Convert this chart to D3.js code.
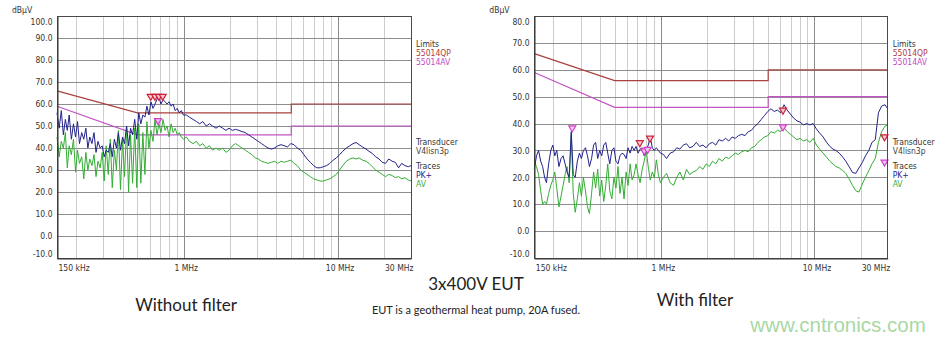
<!DOCTYPE html>
<html>
<head>
<meta charset="utf-8">
<script src="https://cdn.jsdelivr.net/npm/d3@7"></script>
<style>
  html, body { margin: 0; padding: 0; background: #fff; }
  svg { display: block; }
  .sm { font-family: "Liberation Sans Narrow", "Arial Narrow", "DejaVu Sans Condensed", "Liberation Sans", Arial, sans-serif; font-size: 8.5px; fill: #333; }
  .cap { font-family: Lato, "Open Sans", "Noto Sans", sans-serif; fill: #222; }
</style>
</head>
<body>
<svg id="chart" width="951" height="339"></svg>
<script>
// Frequency grid of the sweep (MHz), shared by both measurements
const freqMHz = [
  0.150,0.155,0.160,0.165,0.170,0.175,0.180,0.186,0.192,0.198,
  0.204,0.210,0.217,0.224,0.231,0.238,0.245,0.253,0.261,0.269,
  0.277,0.286,0.295,0.304,0.313,0.323,0.333,0.343,0.354,0.365,
  0.376,0.388,0.400,0.412,0.425,0.438,0.451,0.465,0.480,0.495,
  0.510,0.526,0.542,0.559,0.576,0.594,0.612,0.631,0.650,0.670,
  0.690,0.711,0.733,0.756,0.779,0.803,0.828,0.853,0.880,0.907,
  0.935,0.964,0.994,
  1.04,1.09,1.15,1.21,1.27,1.33,1.40,1.47,1.54,1.62,
  1.70,1.79,1.88,1.97,2.07,2.17,2.28,2.39,2.51,2.64,
  2.77,2.91,3.05,3.20,3.36,3.53,3.71,3.89,4.09,4.29,
  4.50,4.73,4.97,5.21,5.47,5.75,6.03,6.34,6.65,6.98,
  7.33,7.70,8.08,8.49,8.91,9.36,9.82,10.3,10.8,11.4,
  12.0,12.6,13.2,13.8,14.5,15.3,16.0,16.8,17.7,18.6,
  19.5,20.5,21.5,22.6,23.7,24.9,26.1,27.4,28.8,30.0
];

// Without filter: peak (PK+) and average (AV) traces, dBµV
const pkWithout = [
  56,49,57,46,53,48,55,44,51,45,
  52,42,47,44,49,40,45,42,47,38,
  43,40,41,36,39,38,42,36,44,40,
  47,39,45,42,50,41,49,46,53,44,
  56,51,55,54,59,55,61,58,60,62,
  63,60,62,61,60,61,59,60,57,58,
  56,57,55,
  55,54,53,52,51,52,50,51,50,49,
  50,49,48,49,48,48.5,48,47.5,47,46,
  45,44,43,42,41,40,39.5,40,41,41.5,
  41,40.5,42,41.5,40,39,37,35,33.5,32,
  31,31,31.5,32,33,34.5,35.5,37,38.5,40,
  41,42,42.5,41.5,40.5,39.5,38.5,37.5,36,35,
  33.5,33,35,34,33.5,31,33,32,31.5,32
];
const avWithout = [
  45,36,43,40,47,31,41,37,44,29,
  39,33,36,26,38,30,35,32,37,27,
  34,31,38,25,41,28,44,22,39,30,
  48,21,44,27,50,20,46,24,49,22,
  51,24,47,28,52,40,48,43,53,46,
  51,47,53,48,50,45,51,47,49,46,
  47,45,44,
  45,43,42,43,41,42,40,41,39,40,
  39,40,38,39,41,42,41,40,39,38,
  37,35.5,35,34,33.5,33,33.5,34,33,34,
  33.5,34,34.5,33,32,30,29,28,27,26,
  25.5,25,25,25.5,26,27,28,30,32,34,
  35,35.5,35,35.5,34.5,34,33,31.5,30,29,
  28,27,28,27.5,26.5,27,26,26.5,25.5,25
];

// With filter: peak (PK+) and average (AV) traces, dBµV
const pkWith = [
  23,28,30,26,24,20,18,25,30,32,
  28,30,24,27,28,25,22,20,37,21,
  20,26,29,27,30,31,28,24,27,32,
  33,27,30,28,32,33,29,25,30,31,
  26,25,28,29,28.5,27,31,29,31.5,30,
  31.5,29,30.5,31,28,30,32,35,31,30,
  31,30,29,
  28.5,27,29,29.5,31,30.5,32,32.5,31,31.5,
  33,31.5,32,31,32.5,33,32,34,33.5,34.5,
  33.5,35,34.5,35.5,36,35.5,37,37.5,39,40,
  41.5,43,44.5,45.5,44.5,45,44,47,45,43.5,
  42,41,40.5,39.5,40,39.5,40,38,36.5,35,
  33,31.5,30.5,30,29,27.5,26,24,21.8,21.5,
  23.5,25.5,28,30,33,34,44,46.5,47,45.5
];
const avWith = [
  26,24,21,15,10,11,10,14,17,19,
  22,16,9,13,17,21,24,18,36,14,
  7,12,18,13,20,15,9,6.5,14,22,
  16,23,13,19,11,17,25,15,12,20,
  16,24,14,20,12,22,17,25,19,21,
  25,21,18,23,26,30,24,19,22,20,
  26.5,21,18,
  20,21.5,18,17,20,22,19,23,21,22,
  22.5,24,23,25,24,26,25,27,26,27.5,
  27,28,29,28.5,29.5,30,29.5,31,31.5,33,
  34,35,35.5,37,36.5,37.5,37,38.5,37,36,
  35,34,34.5,33.5,34,33,34.5,32,30.5,29,
  27.5,26,25,24,23.5,22.5,21.5,19.5,17,15,
  14.5,17.5,20,22.5,25,27,33,37,39,39.5
];

// EN 55014 limit lines (breakpoints in MHz / dBµV)
const limitFreq = [0.15, 0.5, 5, 5, 30];
const limitQP = [66, 56, 56, 60, 60];
const limitAV = [59, 46, 46, 50, 50];

// Final measurement markers
const markWithoutQPf = [0.61, 0.65, 0.69, 0.73];
const markWithoutQPv = [63, 63, 63, 63];
const markWithoutAVf = [0.68];
const markWithoutAVv = [52];
const markWithQPf = [0.73, 0.85, 6.24, 28.6];
const markWithQPv = [32.5, 34.2, 44.6, 34.7];
const markWithAVf = [0.265, 0.78, 0.82, 6.24, 28.6];
const markWithAVv = [38, 29.5, 30, 38.4, 25.3];

// Axis ticks and labels
const gridMHz = [0.2,0.3,0.4,0.5,0.6,0.7,0.8,0.9,1,2,3,4,5,6,7,8,9,10,20];
const xTickMHz = [0.15, 1, 10, 30];
const xTickLabels = ["150 kHz", "1 MHz", "10 MHz", "30 MHz"];
const yTicksWithout = [-10,0,10,20,30,40,50,60,70,80,90,100];
const yTicksWith = [-10,0,10,20,30,40,50,60,70,80];

const legendLines = [
  {t: "Limits", c: "#333", dy: 44.3},
  {t: "55014QP", c: "#b0403c", dy: 53.5},
  {t: "55014AV", c: "#c04cc0", dy: 62.5},
  {t: "Transducer", c: "#333", dy: 142.7},
  {t: "V4lisn3p", c: "#444", dy: 151.7},
  {t: "Traces", c: "#333", dy: 166.7},
  {t: "PK+", c: "#24248a", dy: 175.7},
  {t: "AV", c: "#3aae3a", dy: 184.3}
];

const COLORS = { pk: "#22228a", av: "#33ad33", qp: "#a8413d", avl: "#c354c3",
                 mQP: "#d0203a", mAV: "#d040c8" };

const svg = d3.select("#chart");
const plotTop = 16, plotBottom = 258;

const panels = [
  { x0: 57, x1: 411, yMax: 100, yTicks: yTicksWithout, pk: pkWithout, av: avWithout,
    qf: markWithoutQPf, qv: markWithoutQPv, af: markWithoutAVf, av2: markWithoutAVv },
  { x0: 534.3, x1: 887.7, yMax: 80, yTicks: yTicksWith, pk: pkWith, av: avWith,
    qf: markWithQPf, qv: markWithQPv, af: markWithAVf, av2: markWithAVv }
];

const crisp = v => Math.round(v) + 0.5;

panels.forEach(p => {
  const x = d3.scaleLog().domain([0.15, 30]).range([p.x0, p.x1]);
  const y = d3.scaleLinear().domain([-10, p.yMax]).range([plotBottom, plotTop]);
  const g = svg.append("g");

  // vertical grid
  g.append("g").selectAll("line").data(gridMHz).join("line")
    .attr("x1", d => crisp(x(d))).attr("x2", d => crisp(x(d)))
    .attr("y1", plotTop).attr("y2", plotBottom)
    .attr("stroke", d => (d === 1 || d === 10) ? "#8c8c8c" : "#cdcdcd")
    .attr("stroke-width", 1);

  // horizontal grid
  g.append("g").selectAll("line").data(p.yTicks).join("line")
    .attr("x1", p.x0).attr("x2", p.x1)
    .attr("y1", d => crisp(y(d))).attr("y2", d => crisp(y(d)))
    .attr("stroke", "#8e8e8e").attr("stroke-width", 1);

  // limit lines
  const lim = d3.line().x(d => x(d[0])).y(d => y(d[1]));
  g.append("path").datum(limitFreq.map((f, i) => [f, limitQP[i]]))
    .attr("d", lim).attr("fill", "none").attr("stroke", COLORS.qp).attr("stroke-width", 1.2);
  g.append("path").datum(limitFreq.map((f, i) => [f, limitAV[i]]))
    .attr("d", lim).attr("fill", "none").attr("stroke", COLORS.avl).attr("stroke-width", 1.2);

  // traces
  const tr = d3.line().x(d => x(d[0])).y(d => y(d[1]));
  g.append("path").datum(freqMHz.map((f, i) => [f, p.av[i]]))
    .attr("d", tr).attr("fill", "none").attr("stroke", COLORS.av).attr("stroke-width", 1);
  g.append("path").datum(freqMHz.map((f, i) => [f, p.pk[i]]))
    .attr("d", tr).attr("fill", "none").attr("stroke", COLORS.pk).attr("stroke-width", 1);

  // markers (downward triangles)
  const tri = (cx, cy) => `M${cx - 3.5},${cy - 3}L${cx + 3.5},${cy - 3}L${cx},${cy + 3}Z`;
  g.append("g").selectAll("path").data(p.af.map((f, i) => [f, p.av2[i]])).join("path")
    .attr("d", d => tri(x(d[0]), y(d[1])))
    .attr("fill", "#f3c4ee").attr("stroke", COLORS.mAV).attr("stroke-width", 1.2);
  g.append("g").selectAll("path").data(p.qf.map((f, i) => [f, p.qv[i]])).join("path")
    .attr("d", d => tri(x(d[0]), y(d[1])))
    .attr("fill", "#f6c9cf").attr("stroke", COLORS.mQP).attr("stroke-width", 1.2);

  // frame
  g.append("rect").attr("x", crisp(p.x0)).attr("y", crisp(plotTop))
    .attr("width", Math.round(p.x1 - p.x0)).attr("height", plotBottom - plotTop)
    .attr("fill", "none").attr("stroke", "#4a4a4a").attr("stroke-width", 1);

  // y axis
  const ya = g.append("g").attr("transform", `translate(${crisp(p.x0)},0)`)
    .call(d3.axisLeft(y).tickValues(p.yTicks).tickFormat(d => d.toFixed(1)).tickSize(0).tickPadding(5));
  ya.select(".domain").attr("stroke", "#333");
  ya.selectAll("text").attr("class", "sm").attr("font-family", null).attr("font-size", null)
    .attr("dy", d => d === p.yMax ? "1.05em" : (d === -10 ? "-0.15em" : "0.32em"));

  // x axis
  const xa = g.append("g").attr("transform", `translate(0,${crisp(plotBottom)})`)
    .call(d3.axisBottom(x).tickValues(xTickMHz).tickFormat((d, i) => xTickLabels[i]).tickSize(0).tickPadding(6));
  xa.select(".domain").attr("stroke", "#333");
  xa.selectAll("text").attr("class", "sm").attr("font-family", null).attr("font-size", null)
    .attr("text-anchor", d => d === 0.15 ? "start" : (d === 30 ? "end" : "middle"))
    .attr("dx", d => d === 0.15 ? 1 : 2);

  // unit label
  g.append("text").attr("class", "sm").attr("x", p.x0 - 45).attr("y", 13).text("dBµV");

  // legend
  g.append("g").selectAll("text").data(legendLines).join("text")
    .attr("class", "sm").attr("x", p.x1 + 5).attr("y", d => d.dy).attr("dy", "0.32em")
    .style("fill", d => d.c).text(d => d.t);
});

// captions
svg.append("text").attr("class", "cap").attr("x", 476).attr("y", 290)
  .attr("text-anchor", "middle").attr("font-size", 17).text("3x400V EUT");
svg.append("text").attr("class", "cap").attr("x", 186).attr("y", 311)
  .attr("text-anchor", "middle").attr("font-size", 17).text("Without filter");
svg.append("text").attr("class", "cap").attr("x", 695).attr("y", 306)
  .attr("text-anchor", "middle").attr("font-size", 17).text("With filter");
svg.append("text").attr("class", "cap").attr("x", 476).attr("y", 314)
  .attr("text-anchor", "middle").attr("font-size", 11).text("EUT is a geothermal heat pump, 20A fused.");
svg.append("text").attr("x", 838).attr("y", 332)
  .attr("text-anchor", "middle").attr("font-size", 20.5)
  .attr("font-family", "'Liberation Sans Narrow','Liberation Sans',Arial,sans-serif")
  .attr("fill", "#a9d8a4").text("www.cntronics.com");
</script>
</body>
</html>
